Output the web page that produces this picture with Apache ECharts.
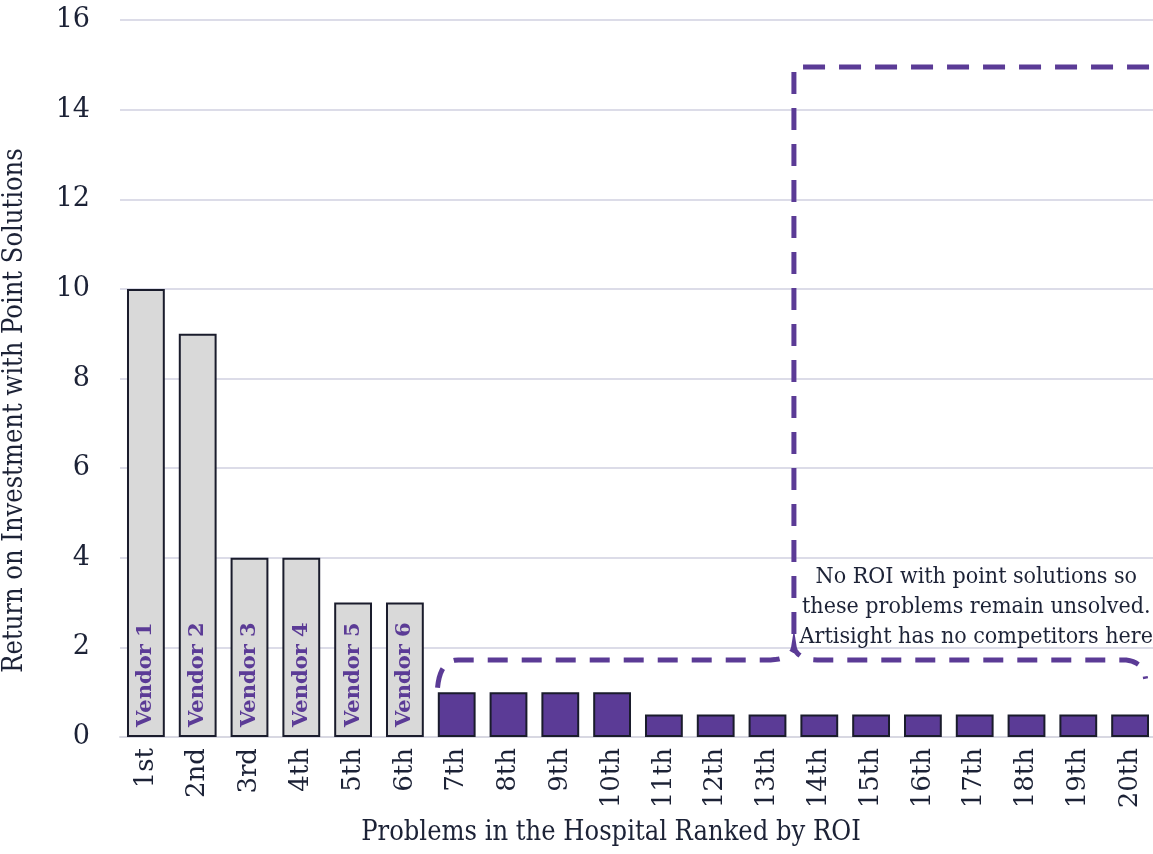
<!DOCTYPE html>
<html>
<head>
<meta charset="utf-8">
<script src="https://cdn.jsdelivr.net/npm/echarts@6/dist/echarts.min.js"></script>
<style>
html, body { margin: 0; padding: 0; background: #fff; }
#main { width: 1153px; height: 854px; }
</style>
</head>
<body>
<div id="main"></div>
<script>
var categories = ['1st', '2nd', '3rd', '4th', '5th', '6th', '7th', '8th', '9th', '10th',
    '11th', '12th', '13th', '14th', '15th', '16th', '17th', '18th', '19th', '20th'];
var roi = [10, 9, 4, 4, 3, 3, 1, 1, 1, 1, 0.5, 0.5, 0.5, 0.5, 0.5, 0.5, 0.5, 0.5, 0.5, 0.5];
var vendors = ['Vendor 1', 'Vendor 2', 'Vendor 3', 'Vendor 4', 'Vendor 5', 'Vendor 6'];
var noteLines = ['No ROI with point solutions so', 'these problems remain unsolved.', 'Artisight has no competitors here'];

var purple = '#5b3b96';
var dark = '#1c2236';
var serif = '"DejaVu Serif", serif';
var serifCond = '"DejaVu Serif Condensed", "DejaVu Serif", serif';

var dom = document.getElementById('main');
var myChart = echarts.init(dom);

var barData = roi.map(function (v, i) {
    var vendor = vendors[i];
    return {
        value: v,
        itemStyle: {
            color: vendor ? '#d9d9d9' : purple,
            borderColor: '#1a1c2c',
            borderWidth: 2
        },
        label: {
            show: !!vendor,
            formatter: vendor || ''
        }
    };
});

var option = {
    animation: false,
    grid: { left: 120, right: -3, top: 20, bottom: 117, outerBoundsMode: 'none' },
    xAxis: {
        type: 'category',
        data: categories,
        name: 'Problems in the Hospital Ranked by ROI',
        nameLocation: 'middle',
        nameGap: 82,
        nameTextStyle: { fontFamily: serifCond, fontSize: 27, color: dark, padding: [0, 54, 0, 0] },
        axisLine: { lineStyle: { color: '#d8d8e2', width: 2 } },
        axisTick: { show: false },
        axisLabel: { rotate: 90, fontFamily: serif, fontSize: 26, color: dark, margin: 11 }
    },
    yAxis: {
        type: 'value',
        min: 0,
        max: 16,
        interval: 2,
        name: 'Return on Investment with Point Solutions',
        nameLocation: 'middle',
        nameGap: 92,
        nameTextStyle: { fontFamily: serifCond, fontSize: 27, color: dark, padding: [0, 64, 0, 0] },
        axisLine: { show: false },
        axisTick: { show: false },
        splitLine: { lineStyle: { color: '#dcdce8', width: 2 } },
        axisLabel: { fontFamily: serif, fontSize: 27, color: dark, margin: 30 }
    },
    series: [{
        type: 'bar',
        data: barData,
        barWidth: '73%',
        label: {
            position: 'insideBottom',
            rotate: 90,
            align: 'left',
            verticalAlign: 'middle',
            distance: 10,
            fontFamily: serif,
            fontWeight: 'bold',
            fontSize: 21,
            color: purple
        }
    }]
};

myChart.setOption(option, true);

// dashed brace + box: anchors in data units, converted to pixels
function pt(idx, val) {
    var a = myChart.convertToPixel({ xAxisIndex: 0, yAxisIndex: 0 }, [0, val]);
    var b = myChart.convertToPixel({ xAxisIndex: 0, yAxisIndex: 0 }, [1, val]);
    return [a[0] + idx * (b[0] - a[0]), a[1]];
}
// sample a quadratic curve between pixel points
function curve(pts, p0, c, p1) {
    for (var k = 1; k <= 10; k++) {
        var t = k / 10, u = 1 - t;
        pts.push([u * u * p0[0] + 2 * u * t * c[0] + t * t * p1[0],
                  u * u * p0[1] + 2 * u * t * c[1] + t * t * p1[1]]);
    }
}

var footL = 5.63, footR = 19.3, braceY = 1.72, footY = 1.1, footYR = 1.3;
var peakX = 12.51, peakY = 2.05, boxTop = 14.95;

var brace = [pt(footL, footY)];
curve(brace, pt(footL, footY), pt(footL + 0.05, braceY), pt(footL + 0.4, braceY));
brace.push(pt(peakX - 0.45, braceY));
curve(brace, pt(peakX - 0.45, braceY), pt(peakX - 0.02, braceY + 0.02), pt(peakX, peakY));
curve(brace, pt(peakX, peakY), pt(peakX + 0.02, braceY + 0.02), pt(peakX + 0.45, braceY));
brace.push(pt(footR - 0.45, braceY));
curve(brace, pt(footR - 0.45, braceY), pt(footR - 0.05, braceY), pt(footR, footYR));

var box = [pt(peakX, peakY + 0.25), pt(peakX, boxTop), pt(20.6, boxTop)];

var notePos = pt(16.03, 3.9);

myChart.setOption({
    graphic: [{
        type: 'polyline',
        shape: { points: brace },
        style: { fill: null, stroke: purple, lineWidth: 5, lineDash: [20, 14] },
        z: 10
    }, {
        type: 'polyline',
        shape: { points: box },
        style: { fill: null, stroke: purple, lineWidth: 5, lineDash: [22, 14] },
        z: 10
    }, {
        type: 'text',
        x: notePos[0],
        y: notePos[1],
        style: {
            text: noteLines.join('\n'),
            font: '23px ' + serifCond,
            fill: dark,
            align: 'center',
            verticalAlign: 'top',
            lineHeight: 30
        },
        z: 11
    }]
});
</script>
</body>
</html>
